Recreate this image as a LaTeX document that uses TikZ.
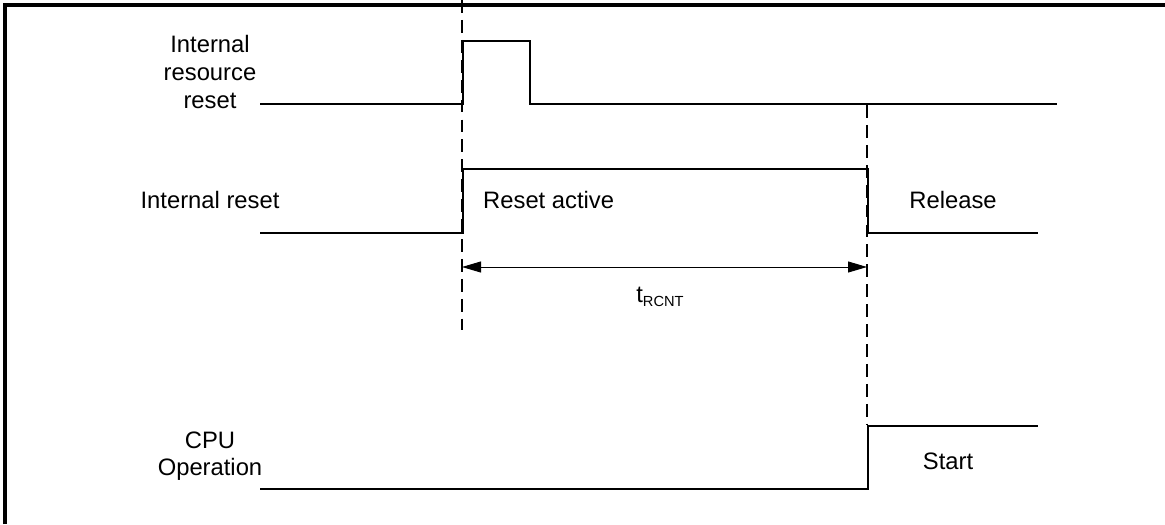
\documentclass[tikz,border=0pt]{standalone}
\usepackage{fontspec}
\setmainfont{Liberation Sans}
\usepackage{tikz}
\usetikzlibrary{arrows.meta}

\begin{document}
\begin{tikzpicture}[x=0.03cm, y=-0.03cm, font=\fontsize{20.3}{23.5}\selectfont]
      \tikzstyle{signal} = [draw=black, line width=2.4pt, line join=miter]
      \tikzstyle{guide} = [draw=black, line width=1pt, dash pattern=on 11pt off 6pt]
      \tikzstyle{span} = [draw=black, line width=0.8pt, {Triangle[length=0.57cm, width=0.33cm]}-{Triangle[length=0.57cm, width=0.33cm]}]
      \tikzstyle{sig label} = [align=center, inner sep=0pt]
      \useasboundingbox (0,0) rectangle (1165,524);
      %frame
      \draw[line width=2.8pt] (5,524) -- (5,5) -- (1165,5);
      %nodes
      \node[sig label] (resreset) at (210,72)  {Internal\\resource\\reset};
      \node[sig label] (intreset) at (210,200) {Internal reset};
      \node[sig label] (cpuop)    at (210,456) {CPU\\Operation};
      \node[sig label, anchor=west] (active) at (483,200) {Reset active};
      \node[sig label] (release)  at (953,200) {Release};
      \node[sig label] (start)    at (948,461) {Start};
      \node[sig label] (trcnt)    at (660,297) {t{\fontsize{12.5}{14}\selectfont\raisebox{-4pt}{RCNT}}};
      %edges of the signals
      \coordinate (r0) at (260,104);  \coordinate (r1) at (463,104);
      \coordinate (r2) at (463,41);   \coordinate (r3) at (530,41);
      \coordinate (r4) at (530,104);  \coordinate (r5) at (1057,104);
      \coordinate (i0) at (260,233);  \coordinate (i1) at (463,233);
      \coordinate (i2) at (463,169);  \coordinate (i3) at (868,169);
      \coordinate (i4) at (868,233);  \coordinate (i5) at (1038,233);
      \coordinate (c0) at (260,489);  \coordinate (c1) at (868,489);
      \coordinate (c2) at (868,426);  \coordinate (c3) at (1038,426);
      \coordinate (g0) at (462,0);    \coordinate (g1) at (462,330);
      \coordinate (h0) at (867,105);  \coordinate (h1) at (867,425);
      \coordinate (a0) at (462,267);  \coordinate (a1) at (867,267);
      %lines
      \path [guide] (g0) -- (g1);
      \path [guide] (h0) -- (h1);
      \path [signal] (r0) -- (r1) -- (r2) -- (r3) -- (r4) -- (r5);
      \path [signal] (i0) -- (i1) -- (i2) -- (i3) -- (i4) -- (i5);
      \path [signal] (c0) -- (c1) -- (c2) -- (c3);
      \path [span] (a0) -- (a1);
\end{tikzpicture}
\end{document}
